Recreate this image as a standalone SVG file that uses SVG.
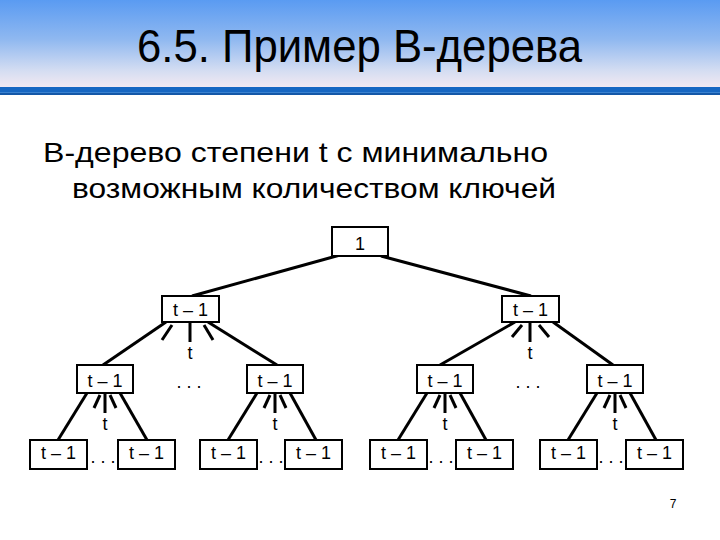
<svg xmlns="http://www.w3.org/2000/svg" width="720" height="540" viewBox="0 0 720 540">
<defs>
<linearGradient id="hdr" x1="0" y1="0" x2="0" y2="1">
<stop offset="0" stop-color="#5a9bf2"/>
<stop offset="0.45" stop-color="#8fb8f0"/>
<stop offset="0.8" stop-color="#d2dcf2"/>
<stop offset="1" stop-color="#f2e9f2"/>
</linearGradient>
<style>
.box{fill:#fff;stroke:#000;stroke-width:2}
.lbl{font-family:"Liberation Sans",Arial,sans-serif;font-size:18px;fill:#000;text-anchor:middle}
.edge{stroke:#000;stroke-width:3;fill:none;stroke-linecap:butt}
.txt{font-family:"Liberation Sans",Arial,sans-serif;fill:#000}
</style>
</defs>
<rect width="720" height="540" fill="#fff"/>
<g id="header">
<rect x="0" y="0" width="720" height="87" fill="url(#hdr)"/>
<rect x="0" y="87" width="720" height="5" fill="#1767c2"/>
<rect x="0" y="92" width="720" height="1" fill="#3a82d0"/>
<rect x="0" y="93" width="720" height="2" fill="#1458a8"/>
<text class="txt" x="137" y="62" font-size="47" textLength="445" lengthAdjust="spacingAndGlyphs">6.5. Пример B-дерева</text>
</g>
<g id="subtitle">
<text class="txt" x="43" y="162" font-size="28" textLength="505" lengthAdjust="spacingAndGlyphs">B-дерево степени t с минимально</text>
<text class="txt" x="72" y="198" font-size="28" textLength="484" lengthAdjust="spacingAndGlyphs">возможным количеством ключей</text>
</g>
<g id="connectors" class="edge">
<line x1="340" y1="255" x2="192" y2="296"/>
<line x1="381" y1="256" x2="531" y2="296"/>
<line x1="166" y1="322" x2="103" y2="365"/>
<line x1="172" y1="325" x2="162" y2="340"/>
<line x1="190" y1="323" x2="190" y2="342"/>
<line x1="204" y1="325" x2="213" y2="340"/>
<line x1="208" y1="322" x2="277" y2="365"/>
<line x1="515" y1="322" x2="440" y2="365"/>
<line x1="522" y1="325" x2="512" y2="337"/>
<line x1="530" y1="323" x2="530" y2="342"/>
<line x1="539" y1="325" x2="549" y2="337"/>
<line x1="553" y1="322" x2="613" y2="365"/>
<line x1="87" y1="393" x2="58" y2="440"/>
<line x1="100" y1="395" x2="94" y2="408"/>
<line x1="105" y1="394" x2="105" y2="413"/>
<line x1="110" y1="395" x2="116" y2="408"/>
<line x1="120" y1="393" x2="147" y2="440"/>
<line x1="257" y1="393" x2="228" y2="440"/>
<line x1="270" y1="395" x2="264" y2="408"/>
<line x1="275" y1="394" x2="275" y2="413"/>
<line x1="280" y1="395" x2="286" y2="408"/>
<line x1="290" y1="393" x2="316" y2="440"/>
<line x1="427" y1="393" x2="398" y2="440"/>
<line x1="440" y1="395" x2="434" y2="408"/>
<line x1="445" y1="394" x2="445" y2="413"/>
<line x1="450" y1="395" x2="456" y2="408"/>
<line x1="460" y1="393" x2="486" y2="440"/>
<line x1="597" y1="393" x2="568" y2="440"/>
<line x1="610" y1="395" x2="604" y2="408"/>
<line x1="615" y1="394" x2="615" y2="413"/>
<line x1="620" y1="395" x2="626" y2="408"/>
<line x1="630" y1="393" x2="656" y2="440"/>
</g>
<g id="root"><rect class="box" x="332" y="227" width="56" height="29"/><text class="lbl" x="360" y="250">1</text></g>
<g id="n1a"><rect class="box" x="162" y="296" width="57" height="26"/><text class="lbl" x="190.5" y="316">t – 1</text></g>
<g id="n1b"><rect class="box" x="502" y="296" width="57" height="26"/><text class="lbl" x="530.5" y="316">t – 1</text></g>
<g id="n2a"><rect class="box" x="77" y="365" width="56" height="28"/><text class="lbl" x="105" y="387">t – 1</text></g>
<g id="n2b"><rect class="box" x="247" y="365" width="56" height="28"/><text class="lbl" x="275" y="387">t – 1</text></g>
<g id="n2c"><rect class="box" x="417" y="365" width="56" height="28"/><text class="lbl" x="445" y="387">t – 1</text></g>
<g id="n2d"><rect class="box" x="587" y="365" width="56" height="28"/><text class="lbl" x="615" y="387">t – 1</text></g>
<g id="n3a"><rect class="box" x="30" y="440" width="57" height="29"/><text class="lbl" x="58.5" y="459">t – 1</text></g>
<g id="n3b"><rect class="box" x="118" y="440" width="57" height="29"/><text class="lbl" x="146.5" y="459">t – 1</text></g>
<g id="n3c"><rect class="box" x="200" y="440" width="57" height="29"/><text class="lbl" x="228.5" y="459">t – 1</text></g>
<g id="n3d"><rect class="box" x="285" y="440" width="57" height="29"/><text class="lbl" x="313.5" y="459">t – 1</text></g>
<g id="n3e"><rect class="box" x="370" y="440" width="57" height="29"/><text class="lbl" x="398.5" y="459">t – 1</text></g>
<g id="n3f"><rect class="box" x="456" y="440" width="57" height="29"/><text class="lbl" x="484.5" y="459">t – 1</text></g>
<g id="n3g"><rect class="box" x="540" y="440" width="57" height="29"/><text class="lbl" x="568.5" y="459">t – 1</text></g>
<g id="n3h"><rect class="box" x="626" y="440" width="57" height="29"/><text class="lbl" x="654.5" y="459">t – 1</text></g>
<g id="labels">
<text class="lbl" x="190" y="359">t</text>
<text class="lbl" x="530" y="359">t</text>
<text class="lbl" x="105" y="430">t</text>
<text class="lbl" x="275" y="430">t</text>
<text class="lbl" x="445" y="430">t</text>
<text class="lbl" x="615" y="430">t</text>
<text class="lbl" x="189" y="388">. . .</text>
<text class="lbl" x="528" y="388">. . .</text>
<text class="lbl" x="103" y="463">. . .</text>
<text class="lbl" x="271" y="463">. . .</text>
<text class="lbl" x="441" y="463">. . .</text>
<text class="lbl" x="611" y="463">. . .</text>
<text class="txt" x="673" y="508" font-size="12" text-anchor="middle">7</text>
</g>
</svg>
